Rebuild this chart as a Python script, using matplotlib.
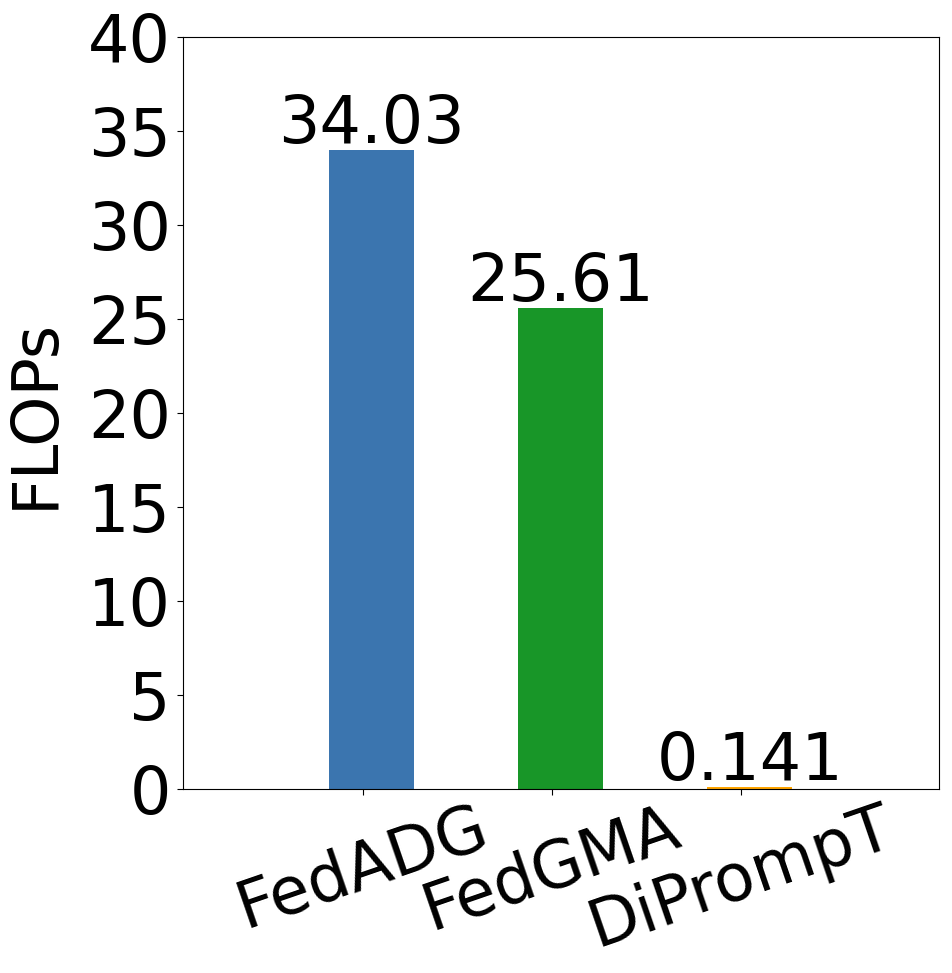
import matplotlib
matplotlib.use("Agg")
import matplotlib.pyplot as plt
import numpy as np

methods = ["FedADG", "FedGMA", "DiPrompT"]
flops = [34.03, 25.61, 0.141]
labels = ["34.03", "25.61", "0.141"]
colors = ["#3b75af", "#189628", "#ffa500"]
yticks = [0, 5, 10, 15, 20, 25, 30, 35, 40]

fig = plt.figure(figsize=(9.52, 9.73), dpi=100)
ax = fig.add_axes([182.7/952, 1-789.3/973, (939.3-182.7)/952, (789.3-37.3)/973])

x = np.arange(len(methods))
bars = ax.bar(x + 0.048, flops, width=0.45, color=colors)
for xi, v, lab in zip(x + 0.048, flops, labels):
    ax.annotate(lab, (xi, v), xytext=(0, 5), textcoords="offset points",
                ha="center", va="baseline", fontsize=47)

ax.set_xticks(x)
ax.set_xticklabels(methods, rotation=19, fontsize=47, ha="center")
ax.set_yticks(yticks)
ax.set_yticklabels([str(t) for t in yticks], fontsize=47)
ax.tick_params(length=4.3, pad=4.3)
ax.tick_params(axis="x", pad=0.5)
ax.set_ylim(0, 40)
ax.set_xlim(-0.953, 3.05)
ax.set_ylabel("FLOPs", fontsize=46)
ax.yaxis.set_label_coords(-0.154, 0.5)

fig.savefig("out.png", dpi=100)
